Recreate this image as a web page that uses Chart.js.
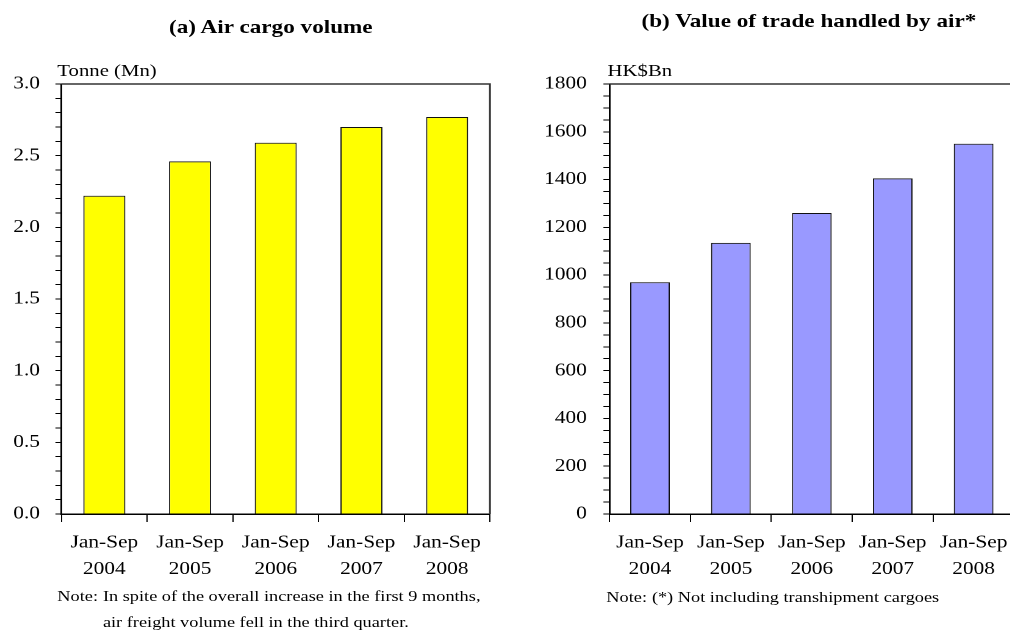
<!DOCTYPE html>
<html>
<head>
<meta charset="utf-8">
<script src="https://cdn.jsdelivr.net/npm/chart.js@4"></script>
<style>
html, body { margin: 0; padding: 0; background: #fff; overflow: hidden; width: 1010px; height: 630px; }
/* the reference text is a bit wide, so the whole page is stretched sideways */
#page { position: absolute; left: 0; top: 0; width: 834px; height: 630px;
        transform: scaleX(1.22); transform-origin: 0 0;
        font-family: 'Liberation Serif', 'Times New Roman', serif; color: #000; }
.box { position: absolute; top: 0; height: 630px; }
.title { position: absolute; font-weight: bold; font-size: 19px; line-height: 22px; white-space: nowrap; transform: translateX(-50%); }
.unit { position: absolute; font-size: 17px; line-height: 20px; white-space: nowrap; }
.note { position: absolute; font-size: 15px; line-height: 26px; white-space: nowrap; display: flex; }
.note span:first-child { margin-right: 4px; }
</style>
</head>
<body>
<div id="page">
    <div class="box" style="left:0;width:414px;"><canvas id="cargoChart" width="414" height="630"></canvas></div>
    <div class="box" style="left:414px;width:420px;"><canvas id="tradeChart" width="420" height="630"></canvas></div>

    <div class="title" style="left:222px;top:16px;">(a) Air cargo volume</div>
    <div class="title" style="left:663px;top:10px;">(b) Value of trade handled by air*</div>

    <div class="unit" style="left:47px;top:61px;">Tonne (Mn)</div>
    <div class="unit" style="left:498px;top:61px;">HK$Bn</div>

    <div class="note" style="left:47px;top:583px;">
        <span>Note:</span>
        <span>In spite of the overall increase in the first 9 months,<br>air freight volume fell in the third quarter.</span>
    </div>
    <div class="note" style="left:497px;top:584px;">
        <span>Note:</span>
        <span>(*) Not including transhipment cargoes</span>
    </div>
</div>

<script>
const years = ['2004', '2005', '2006', '2007', '2008'];
const period = 'Jan-Sep';

// (a) air cargo volume, tonne (Mn)
const cargoVolume = [2.22, 2.46, 2.59, 2.70, 2.77];
const cargoTickLabels = ['0.0', '0.5', '1.0', '1.5', '2.0', '2.5', '3.0'];

// (b) value of trade handled by air, HK$Bn
const tradeValue = [970, 1135, 1260, 1405, 1550];
const tradeTickLabels = ['0', '200', '400', '600', '800', '1000', '1200', '1400', '1600', '1800'];

const FONT = 'Liberation Serif';

// top and right edges of the plot box
const framePlugin = {
    id: 'frame',
    afterDatasetsDraw(chart) {
        const { ctx, chartArea } = chart;
        ctx.save();
        ctx.strokeStyle = '#333';
        ctx.lineWidth = 1.5;
        ctx.beginPath();
        ctx.moveTo(chartArea.left, chartArea.top);
        ctx.lineTo(chartArea.right, chartArea.top);
        ctx.lineTo(chartArea.right, chartArea.bottom);
        ctx.stroke();
        ctx.restore();
    }
};

function makeBarChart(canvasId, values, color, axis) {
    const ctx = document.getElementById(canvasId).getContext('2d');
    return new Chart(ctx, {
        type: 'bar',
        data: {
            labels: years.map(y => [period, y]),
            datasets: [{
                data: values,
                backgroundColor: color,
                borderColor: '#111',
                borderWidth: 1,
                barPercentage: 0.49,
                categoryPercentage: 1
            }]
        },
        options: {
            responsive: false,
            animation: false,
            devicePixelRatio: 2,
            layout: { padding: { top: 84, left: 0, right: axis.padRight, bottom: 0 } },
            plugins: { legend: { display: false }, tooltip: { enabled: false } },
            scales: {
                x: {
                    grid: { offset: true, drawOnChartArea: false, tickLength: 8, color: '#000', lineWidth: 1 },
                    border: { color: '#000', width: 1.5 },
                    ticks: {
                        color: '#000', padding: 8, maxRotation: 0, autoSkip: false,
                        font: { family: FONT, size: 17.5, lineHeight: 1.5 }
                    },
                    afterFit: scale => { scale.height = 116; }
                },
                y: {
                    min: axis.min,
                    max: axis.max,
                    grid: { drawOnChartArea: false, tickLength: 5, color: '#000' },
                    border: { color: '#000', width: 1.5 },
                    ticks: {
                        stepSize: axis.step,
                        autoSkip: false,
                        color: '#000',
                        padding: axis.labelPad,
                        font: { family: FONT, size: 17.5 },
                        callback: v => {
                            const s = v.toFixed(axis.decimals);
                            return axis.labels.includes(s) ? s : '';
                        }
                    },
                    afterFit: scale => { scale.width = axis.width; }
                }
            }
        },
        plugins: [framePlugin]
    });
}

makeBarChart('cargoChart', cargoVolume, '#FFFF00', {
    min: 0, max: 3, step: 0.1, decimals: 1, labels: cargoTickLabels,
    width: 50.4, padRight: 12.4, labelPad: 12.7
});

makeBarChart('tradeChart', tradeValue, '#9999FF', {
    min: 0, max: 1800, step: 50, decimals: 0, labels: tradeTickLabels,
    width: 85.6, padRight: 2.5, labelPad: 13.6
});
</script>
</body>
</html>
